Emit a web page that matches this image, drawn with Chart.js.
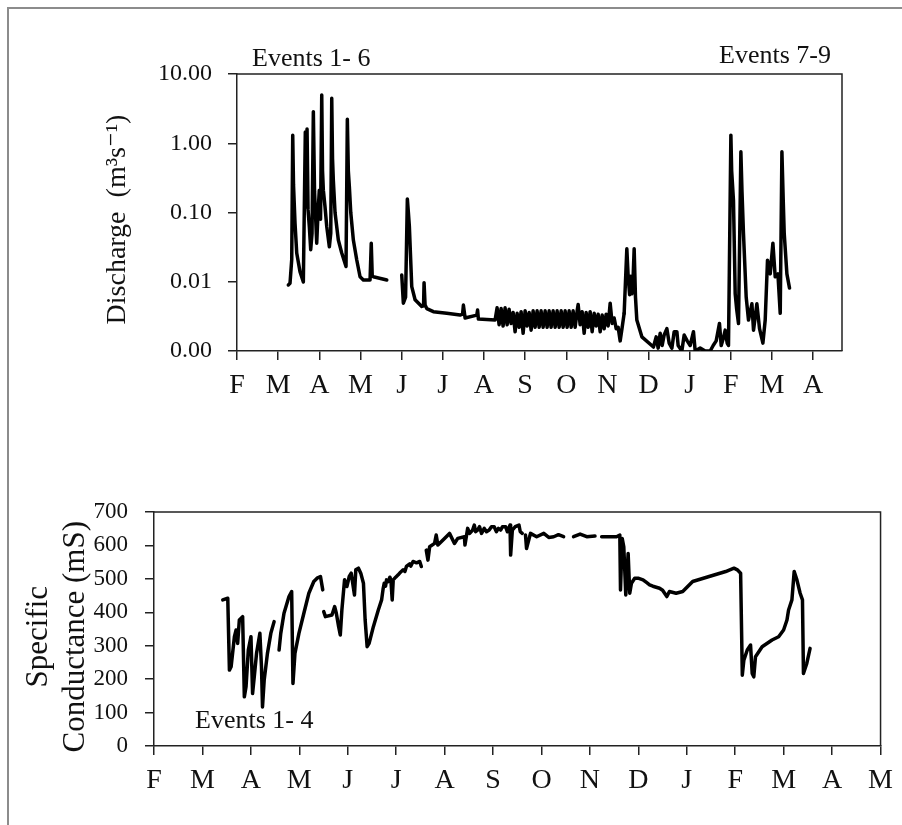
<!DOCTYPE html>
<html>
<head>
<meta charset="utf-8">
<script src="https://cdn.jsdelivr.net/npm/chart.js@4.4.1/dist/chart.umd.min.js"></script>
<style>
body { margin: 0; background: #fff; }
#wrap { position: relative; width: 902px; height: 825px; overflow: hidden; }
#frame { position: absolute; left: 7px; top: 7px; width: 900px; height: 830px;
         border-left: 2px solid #8c8c8c; border-top: 2px solid #8c8c8c; }
#top { position: absolute; left: 0; top: 0; }
#bottom { position: absolute; left: 0; top: 430px; }
</style>
</head>
<body>
<div id="wrap">
  <div id="frame"></div>
  <canvas id="top" width="902" height="420"></canvas>
  <canvas id="bottom" width="902" height="395"></canvas>
</div>
<script>
// month axis labels, x = months since start (F = 0)
var topMonths = ['F','M','A','M','J','J','A','S','O','N','D','J','F','M','A'];
var bottomMonths = ['F','M','A','M','J','J','A','S','O','N','D','J','F','M','A','M'];
var dischargeTicks = [0.001, 0.01, 0.1, 1, 10];
var condTicks = [0, 100, 200, 300, 400, 500, 600, 700];

// discharge (m3/s) [month, value]
var dischargeSpring = [[1.247,0.009],[1.288,0.0095],[1.330,0.021],[1.354,1.3],[1.373,0.25],[1.410,0.07],
  [1.451,0.026],[1.531,0.014],[1.612,0.0099],[1.660,1.45],[1.682,0.12],[1.702,1.6],[1.726,0.11],
  [1.757,0.063],[1.791,0.029],[1.823,0.05],[1.855,2.86],[1.884,0.2],[1.913,0.078],[1.937,0.036],
  [1.969,0.1],[2.000,0.21],[2.030,0.08],[2.059,4.98],[2.078,0.4],[2.098,0.21],[2.139,0.12],
  [2.180,0.063],[2.244,0.032],[2.278,0.05],[2.302,4.46],[2.321,0.6],[2.341,0.29],[2.382,0.1],
  [2.462,0.04],[2.545,0.026],[2.649,0.0166],[2.681,2.22],[2.705,0.4],[2.730,0.236],[2.764,0.1],
  [2.827,0.04],[2.910,0.0206],[2.990,0.0118],[3.070,0.0106],[3.233,0.0106],[3.262,0.036],
  [3.286,0.012],[3.313,0.0118],[3.639,0.0106]];
var dischargeSummer = [[4.003,0.0125],[4.042,0.0049],[4.096,0.006],[4.139,0.157],[4.164,0.1],
  [4.188,0.063],[4.246,0.0085],[4.327,0.0055],[4.489,0.0044],[4.533,0.0045],[4.545,0.0097],
  [4.570,0.0046],[4.611,0.0041],[4.771,0.0037],[5.097,0.0035],[5.420,0.0033],[5.481,0.0034],
  [5.501,0.0046],[5.542,0.003],[5.826,0.0033],[5.846,0.0039],[5.865,0.0029],[6.271,0.0028],
  [6.320,0.0042],[6.368,0.0024],[6.417,0.0041],[6.465,0.0023],[6.514,0.0042],[6.563,0.0024],
  [6.611,0.0040],[6.660,0.0025],[6.709,0.0036],[6.757,0.0019],[6.806,0.0035],[6.855,0.0022],
  [6.903,0.0037],[6.952,0.0018],[7.000,0.0038],[7.049,0.0023],[7.098,0.0036],[7.146,0.002],
  [7.195,0.0038],[7.243,0.0022],[7.292,0.0038],[7.341,0.0022],[7.389,0.0038],[7.438,0.0022],
  [7.487,0.0038],[7.535,0.0022],[7.584,0.0038],[7.632,0.0022],[7.681,0.0038],[7.730,0.0022],
  [7.778,0.0038],[7.827,0.0022],[7.876,0.0038],[7.924,0.0022],[7.973,0.0038],[8.021,0.0022],
  [8.070,0.0038],[8.119,0.0022],[8.167,0.0038],[8.216,0.0022],[8.265,0.0038],[8.289,0.0047],
  [8.337,0.0024],[8.386,0.0037],[8.435,0.0018],[8.483,0.0036],[8.532,0.0022],[8.580,0.0037],
  [8.629,0.0019],[8.678,0.0035],[8.726,0.0023],[8.775,0.0034],[8.824,0.0019],[8.872,0.0033],
  [8.921,0.0021],[8.969,0.0034],[9.018,0.0023],[9.067,0.0049],[9.115,0.0025],[9.164,0.0030],
  [9.213,0.0021],[9.261,0.0022],[9.310,0.0014],[9.359,0.0022],[9.407,0.0035]];
var dischargeWinter = [[9.407,0.0035],[9.472,0.030],[9.504,0.012],[9.540,0.0065],[9.565,0.012],
  [9.594,0.0067],[9.626,0.012],[9.650,0.030],[9.682,0.006],[9.715,0.0028],[9.837,0.0016],
  [10.119,0.00114],[10.185,0.0016],[10.233,0.0011],[10.282,0.0018],[10.330,0.0012],[10.379,0.0017],
  [10.445,0.0021],[10.501,0.0013],[10.566,0.0011],[10.622,0.0019],[10.688,0.0019],[10.719,0.0012],
  [10.809,0.001],[10.865,0.0017],[10.938,0.0014],[11.011,0.0012],[11.091,0.0019],[11.133,0.001],
  [11.254,0.0011],[11.376,0.001],[11.497,0.001],[11.570,0.0012],[11.643,0.0014],[11.723,0.0025],
  [11.765,0.0012],[11.813,0.0015],[11.862,0.002],[11.910,0.0013],[11.942,0.0012],[12.000,1.31],
  [12.019,0.4],[12.063,0.15],[12.105,0.0067],[12.141,0.004],[12.185,0.0025],[12.243,0.755],
  [12.270,0.2],[12.306,0.05],[12.372,0.006],[12.428,0.0028],[12.511,0.0048],[12.550,0.002],
  [12.632,0.0048],[12.696,0.0021],[12.778,0.0013],[12.834,0.0028],[12.890,0.0205],[12.956,0.013],
  [13.021,0.036],[13.077,0.0118],[13.143,0.013],[13.199,0.0035],[13.240,0.755],[13.272,0.15],
  [13.296,0.05],[13.361,0.013],[13.425,0.0081]];

// specific conductance (mS) [month, value], one array per logger run
var condA = [[1.420,437],[1.523,442],[1.557,227],[1.592,237],[1.660,327],[1.695,347],[1.727,307],
  [1.762,377],[1.830,387],[1.865,147],[1.900,177],[1.947,287],[2.002,327],[2.035,157],[2.070,207],
  [2.117,277],[2.186,337],[2.219,237],[2.240,117],[2.275,197],[2.342,277],[2.412,337],[2.480,372]];
var condB = [[2.582,287],[2.617,337],[2.684,397],[2.787,447],[2.842,462],[2.869,187],[2.910,277],
  [2.992,337],[3.094,397],[3.197,457],[3.299,492],[3.367,502],[3.437,507],[3.484,467]];
var condC = [[3.504,402],[3.539,387],[3.674,392],[3.730,417],[3.764,397],[3.812,357],[3.846,332],
  [3.879,407],[3.934,497],[3.982,477],[4.031,507],[4.072,517],[4.139,452],[4.166,527],[4.221,532],
  [4.269,517],[4.324,487],[4.359,377],[4.400,297],[4.441,307],[4.529,357],[4.631,407],[4.699,437],
  [4.730,470],[4.754,487],[4.780,478],[4.801,497],[4.836,492],[4.870,505],[4.891,497],[4.918,437],
  [4.939,497],[4.990,505],[5.041,512],[5.090,520],[5.143,527],[5.180,522],[5.211,537],[5.280,545],
  [5.300,538],[5.348,552],[5.420,548],[5.486,552],[5.519,537]];
var condD = [[5.621,586],[5.656,556],[5.691,596],[5.793,606],[5.826,631],[5.861,601],[5.998,621],
  [6.101,636],[6.203,606],[6.271,621],[6.408,626],[6.420,601],[6.476,651],[6.517,636],[6.578,646],
  [6.613,661],[6.639,641],[6.680,646],[6.721,656],[6.762,636],[6.818,651],[6.865,641],[6.920,646],
  [6.967,656],[7.023,656],[7.070,641],[7.111,651],[7.158,646],[7.193,656],[7.260,656],[7.295,641],
  [7.350,661],[7.363,571],[7.398,646],[7.459,656],[7.535,661],[7.562,641],[7.603,636]];
var condE = [[7.670,631],[7.691,591],[7.773,636],[7.900,626],[8.047,636],[8.150,624],[8.252,626],
  [8.350,632],[8.457,626]];
var condF = [[8.662,626],[8.797,634],[8.934,626],[9.105,628]];
var condG = [[9.242,626],[9.549,626],[9.617,631],[9.631,467],[9.666,621],[9.699,596],[9.740,452],
  [9.789,576],[9.822,457],[9.857,487],[9.924,502],[9.994,502],[10.096,497],[10.160,490],[10.232,482],
  [10.300,478],[10.437,472],[10.500,466],[10.588,447],[10.641,462],[10.779,457],[10.916,462],
  [11.121,492],[11.461,507],[11.803,522],[11.974,532],[12.043,527],[12.111,517],[12.146,212],
  [12.178,257],[12.248,287],[12.316,302],[12.350,217],[12.383,207],[12.418,267],[12.555,297],
  [12.760,317],[12.896,327],[12.998,347],[13.068,377],[13.101,407],[13.170,437],[13.217,522],
  [13.273,497],[13.340,457],[13.388,437],[13.408,217],[13.477,247],[13.545,292]];

var serif = '"Liberation Serif", "Times New Roman", "DejaVu Serif", serif';
Chart.defaults.font.family = serif;
Chart.defaults.color = '#111';

function toPoints(arr) {
  return arr.map(function (p) { return {x: p[0], y: p[1]}; });
}

function lineSet(arr) {
  return {
    data: toPoints(arr),
    borderColor: '#000',
    borderWidth: 3.5,
    borderJoinStyle: 'round',
    borderCapStyle: 'round',
    pointRadius: 0,
    tension: 0
  };
}

// frame on top/right of the plot and the "Events" notes
var boxPlugin = {
  id: 'box',
  afterDraw: function (chart, args, opts) {
    var a = chart.chartArea;
    var ctx = chart.ctx;
    ctx.save();
    ctx.strokeStyle = '#222';
    ctx.lineWidth = 1.5;
    ctx.beginPath();
    ctx.moveTo(a.left, a.top);
    ctx.lineTo(a.right, a.top);
    ctx.lineTo(a.right, a.bottom);
    ctx.stroke();
    ctx.fillStyle = '#111';
    ctx.font = '26px ' + serif;
    (opts.notes || []).forEach(function (n) {
      ctx.textAlign = n.align;
      var x = n.align === 'right' ? a.right + n.dx : a.left + n.dx;
      ctx.fillText(n.text, x, a.top + n.dy);
    });
    ctx.restore();
  }
};

var axisGrid = {drawOnChartArea: false, drawTicks: true, tickLength: 9, color: '#222', lineWidth: 1.5};
var axisBorder = {color: '#222', width: 1.5};

new Chart(document.getElementById('top'), {
  type: 'line',
  data: {datasets: [lineSet(dischargeSpring), lineSet(dischargeSummer), lineSet(dischargeWinter)]},
  plugins: [boxPlugin],
  options: {
    responsive: false,
    animation: false,
    layout: {padding: {left: 96, top: 74, right: 60, bottom: 0}},
    plugins: {
      legend: {display: false},
      tooltip: {enabled: false},
      box: {notes: [
        {text: 'Events 1- 6', align: 'left', dx: 15, dy: -8},
        {text: 'Events 7-9', align: 'right', dx: -11, dy: -11}
      ]}
    },
    scales: {
      x: {
        type: 'linear', min: 0, max: 14.7,
        afterBuildTicks: function (s) { s.ticks = topMonths.map(function (m, i) { return {value: i}; }); },
        afterFit: function (s) { s.height = 69; },
        border: axisBorder,
        grid: axisGrid,
        ticks: {autoSkip: false, maxRotation: 0, padding: 9, font: {size: 28}, color: '#111',
          callback: function (v) { return topMonths[v]; }}
      },
      y: {
        type: 'logarithmic', min: 0.001, max: 10,
        afterBuildTicks: function (s) { s.ticks = dischargeTicks.map(function (v) { return {value: v}; }); },
        afterFit: function (s) { s.width = 141; },
        border: axisBorder,
        grid: axisGrid,
        ticks: {padding: 16, font: {size: 24}, color: '#111',
          callback: function (v) { return Number(v).toFixed(2); }},
        title: {display: true, text: 'Discharge  (m\u00b3s\u207b\u00b9)  ', font: {size: 28},
          color: '#111', padding: {top: 5, bottom: 0}}
      }
    }
  }
});

new Chart(document.getElementById('bottom'), {
  type: 'line',
  data: {datasets: [condA, condB, condC, condD, condE, condF, condG].map(lineSet)},
  plugins: [boxPlugin],
  options: {
    responsive: false,
    animation: false,
    layout: {padding: {left: 16, top: 82, right: 16, bottom: 0}},
    plugins: {
      legend: {display: false},
      tooltip: {enabled: false},
      box: {notes: [{text: 'Events 1- 4', align: 'left', dx: 41, dy: 216}]}
    },
    scales: {
      x: {
        type: 'linear', min: 0, max: 15,
        afterBuildTicks: function (s) { s.ticks = bottomMonths.map(function (m, i) { return {value: i}; }); },
        afterFit: function (s) { s.height = 79; },
        border: axisBorder,
        grid: axisGrid,
        ticks: {autoSkip: false, maxRotation: 0, padding: 9, font: {size: 28}, color: '#111',
          callback: function (v) { return bottomMonths[v]; }}
      },
      y: {
        type: 'linear', min: 0, max: 700,
        afterBuildTicks: function (s) { s.ticks = condTicks.map(function (v) { return {value: v}; }); },
        afterFit: function (s) { s.width = 138; },
        border: axisBorder,
        grid: axisGrid,
        ticks: {padding: 17, font: {size: 23}, color: '#111'},
        title: {display: true, text: ['Specific  ', 'Conductance (mS)  '], font: {size: 31, lineHeight: 1.2},
          color: '#111', padding: {top: 4, bottom: 0}}
      }
    }
  }
});
</script>
</body>
</html>
